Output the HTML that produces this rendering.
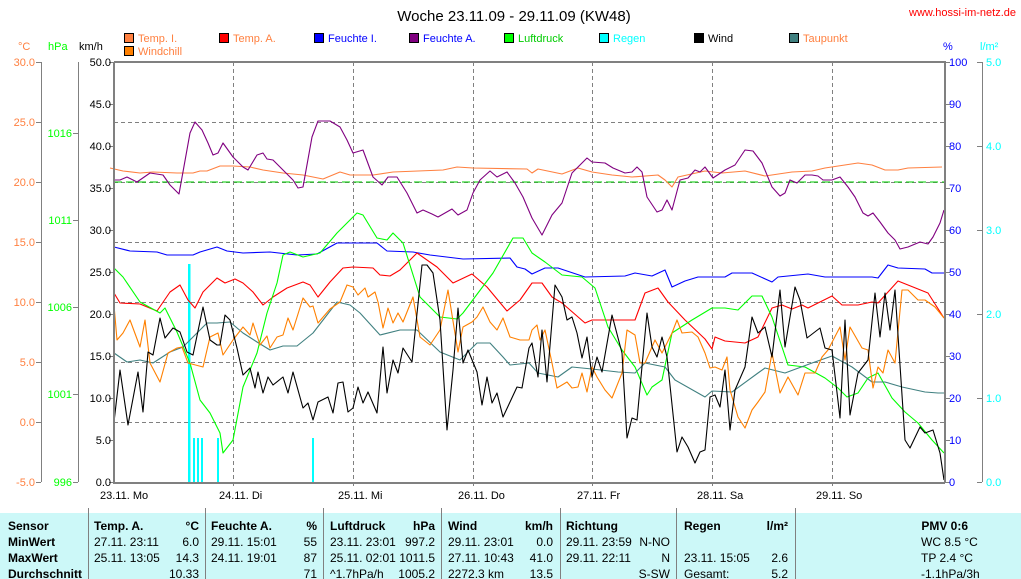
<!DOCTYPE html>
<html><head><meta charset="utf-8"><style>
body{margin:0;background:#fff;width:1021px;height:579px;overflow:hidden}
svg{display:block;font-family:"Liberation Sans",sans-serif}
</style></head><body>
<svg width="1021" height="579" viewBox="0 0 1021 579">
<rect width="1021" height="579" fill="#fff"/>
<text x="514" y="21" font-size="15" text-anchor="middle">Woche 23.11.09 - 29.11.09 (KW48)</text>
<text x="1016" y="16" font-size="11" fill="#f00" text-anchor="end">www.hossi-im-netz.de</text>
<!-- legend -->
<g font-size="11">
<rect x="124.5" y="33.5" width="9" height="9" fill="#ff8040" stroke="#000"/><text x="138" y="42" fill="#ff8040">Temp. I.</text>
<rect x="219.5" y="33.5" width="9" height="9" fill="#f00" stroke="#000"/><text x="233" y="42" fill="#ff8040">Temp. A.</text>
<rect x="314.5" y="33.5" width="9" height="9" fill="#00f" stroke="#000"/><text x="328" y="42" fill="#00f">Feuchte I.</text>
<rect x="409.5" y="33.5" width="9" height="9" fill="#800080" stroke="#000"/><text x="423" y="42" fill="#00f">Feuchte A.</text>
<rect x="504.5" y="33.5" width="9" height="9" fill="#0f0" stroke="#000"/><text x="518" y="42" fill="#0c0">Luftdruck</text>
<rect x="599.5" y="33.5" width="9" height="9" fill="#0ff" stroke="#000"/><text x="613" y="42" fill="#0ff">Regen</text>
<rect x="694.5" y="33.5" width="9" height="9" fill="#000" stroke="#000"/><text x="708" y="42" fill="#000">Wind</text>
<rect x="789.5" y="33.5" width="9" height="9" fill="#408080" stroke="#000"/><text x="803" y="42" fill="#ff8040">Taupunkt</text>
<rect x="124.5" y="46.5" width="9" height="9" fill="#ff8000" stroke="#000"/><text x="138" y="55" fill="#ff8040">Windchill</text>
</g>
<!-- axis units -->
<g font-size="11">
<text x="18" y="50" fill="#ff8040">°C</text>
<text x="48" y="50" fill="#0f0">hPa</text>
<text x="79" y="50" fill="#000">km/h</text>
<text x="943" y="50" fill="#00f">%</text>
<text x="980" y="50" fill="#0ff">l/m²</text>
</g>
<!-- left axes -->
<g stroke="#808080" stroke-width="1">
<line x1="41.5" y1="62" x2="41.5" y2="482"/>
<line x1="78.5" y1="62" x2="78.5" y2="482"/>
<line x1="982.5" y1="62" x2="982.5" y2="482"/>
</g>
<g stroke="#808080">
<path d="M36 62.5h5M36 122.5h5M36 182.5h5M36 242.5h5M36 302.5h5M36 362.5h5M36 422.5h5M36 482.5h5"/>
<path d="M73 133.5h5M73 220.5h5M73 307.5h5M73 394.5h5M73 482.5h5"/>
<path d="M109 62.5h5M109 104.5h5M109 146.5h5M109 188.5h5M109 230.5h5M109 272.5h5M109 314.5h5M109 356.5h5M109 398.5h5M109 440.5h5M109 482.5h5"/>
<path d="M945 62.5h5M945 104.5h5M945 146.5h5M945 188.5h5M945 230.5h5M945 272.5h5M945 314.5h5M945 356.5h5M945 398.5h5M945 440.5h5M945 482.5h5"/>
<path d="M977 62.5h5M977 146.5h5M977 230.5h5M977 314.5h5M977 398.5h5M977 482.5h5"/>
</g>
<g font-size="11" fill="#ff8040" text-anchor="end">
<text x="35" y="66">30.0</text><text x="35" y="126">25.0</text><text x="35" y="186">20.0</text><text x="35" y="246">15.0</text><text x="35" y="306">10.0</text><text x="35" y="366">5.0</text><text x="35" y="426">0.0</text><text x="35" y="486">-5.0</text>
</g>
<g font-size="11" fill="#0f0" text-anchor="end">
<text x="72" y="137">1016</text><text x="72" y="224">1011</text><text x="72" y="311">1006</text><text x="72" y="398">1001</text><text x="72" y="486">996</text>
</g>
<g font-size="11" fill="#000" text-anchor="end">
<text x="111" y="66">50.0</text><text x="111" y="108">45.0</text><text x="111" y="150">40.0</text><text x="111" y="192">35.0</text><text x="111" y="234">30.0</text><text x="111" y="276">25.0</text><text x="111" y="318">20.0</text><text x="111" y="360">15.0</text><text x="111" y="402">10.0</text><text x="111" y="444">5.0</text><text x="111" y="486">0.0</text>
</g>
<g font-size="11" fill="#00f">
<text x="949" y="66">100</text><text x="949" y="108">90</text><text x="949" y="150">80</text><text x="949" y="192">70</text><text x="949" y="234">60</text><text x="949" y="276">50</text><text x="949" y="318">40</text><text x="949" y="360">30</text><text x="949" y="402">20</text><text x="949" y="444">10</text><text x="949" y="486">0</text>
</g>
<g font-size="11" fill="#0ff">
<text x="986" y="66">5.0</text><text x="986" y="150">4.0</text><text x="986" y="234">3.0</text><text x="986" y="318">2.0</text><text x="986" y="402">1.0</text><text x="986" y="486">0.0</text>
</g>
<!-- grid -->
<g stroke="#808080" stroke-dasharray="4,3" stroke-width="1">
<path d="M114 122.5H945M114 182.5H945M114 242.5H945M114 302.5H945M114 362.5H945M114 422.5H945"/>
<path d="M233.5 62V486M353.5 62V486M473.5 62V486M592.5 62V486M712.5 62V486M832.5 62V486"/>
</g>
<line x1="114" y1="182" x2="945" y2="182" stroke="#0c0" stroke-dasharray="8,4" stroke-width="1"/>
<!-- x labels -->
<g font-size="11">
<text x="100" y="499">23.11. Mo</text><text x="219" y="499">24.11. Di</text><text x="338" y="499">25.11. Mi</text><text x="458" y="499">26.11. Do</text><text x="577" y="499">27.11. Fr</text><text x="697" y="499">28.11. Sa</text><text x="816" y="499">29.11. So</text>
</g>
<!-- rain -->
<g fill="#0ff">
<rect x="188" y="264" width="2.5" height="218"/>
<rect x="193" y="438" width="2" height="44"/><rect x="197" y="438" width="2" height="44"/><rect x="201" y="438" width="2" height="44"/>
<rect x="217" y="438" width="2" height="44"/><rect x="312" y="438" width="2" height="44"/>
</g>
<g fill="none" stroke-width="1.1" stroke-linejoin="round">
<polyline stroke="#ff8040" points="110,168 123,171 140,173 153,172 177,173 193,173 200,171 207,171 220,166 233,166 250,167 263,170 283,173 303,175 323,179 340,172 350,175 373,175 393,172 443,170 457,167 473,168 527,169 532,173 538,169 562,174 578,168 592,172 612,175 632,177 658,175 665,180 672,187 678,177 705,171 722,173 745,171 765,176 792,172 812,171 825,168 858,163 872,165 885,170 898,170 908,168 942,167"/>
<polyline stroke="#800080" points="114,180 120,180 127,177 137,182 150,173 163,175 170,185 179,194 190,133 195,122 202,130 208,143 213,155 218,153 223,143 233,157 243,167 248,170 257,155 263,153 267,159 273,160 280,167 287,174 293,180 298,188 303,187 312,137 318,121 330,121 340,127 347,140 353,153 363,150 373,177 382,185 388,177 397,177 407,193 417,213 423,210 432,214 438,217 445,213 452,209 458,215 467,210 473,193 480,180 490,171 497,177 507,172 515,183 523,197 532,218 542,235 552,215 562,203 572,173 587,158 592,162 605,163 613,168 625,173 632,172 637,167 642,172 647,197 657,212 662,210 667,200 672,210 680,180 688,178 695,170 700,172 705,167 713,178 725,170 735,165 745,150 753,151 762,163 772,187 780,196 785,193 790,180 797,183 805,175 812,175 818,176 823,180 832,180 840,177 848,187 855,197 863,213 868,216 873,213 880,222 888,233 895,240 900,249 908,247 920,242 928,244 933,237 940,223 944,210"/>
<polyline stroke="#00f" points="114,247 130,251 157,252 167,255 193,255 200,252 217,247 227,251 243,253 270,252 297,255 317,254 337,243 377,243 387,251 413,252 430,255 463,259 510,258 517,267 525,269 532,274 545,268 558,268 585,277 625,276 635,273 652,276 665,270 672,287 685,281 698,277 725,277 732,273 752,273 772,282 778,277 808,274 825,277 872,277 878,278 888,265 898,268 925,269 932,273 944,273"/>
<polyline stroke="#f00" points="114,293 120,303 140,304 157,311 170,292 180,285 188,300 195,308 203,292 217,278 225,283 235,279 243,283 253,292 263,305 273,297 287,288 303,282 310,285 318,297 330,282 343,268 353,267 373,268 380,275 390,276 400,270 417,253 437,267 453,283 472,274 487,287 507,311 520,300 532,283 542,283 552,297 562,303 585,323 592,320 625,320 635,320 645,293 658,288 668,302 685,320 705,339 712,349 715,337 725,341 745,343 758,337 772,308 782,305 792,309 802,305 808,308 818,303 832,296 842,305 858,305 872,302 878,303 898,281 908,285 928,293 944,318"/>
<polyline stroke="#0f0" points="114,268 123,277 140,302 160,313 165,308 177,332 190,363 200,400 210,413 220,433 223,453 233,440 243,387 257,353 267,313 277,283 283,255 290,252 303,257 320,253 337,233 357,213 363,215 377,238 387,240 393,233 403,243 420,297 440,317 457,319 463,313 493,273 513,238 523,238 532,253 545,262 562,275 582,277 595,288 608,327 622,350 635,367 647,395 652,387 662,380 672,333 692,320 712,308 725,308 738,310 752,296 762,296 772,317 788,365 805,367 825,378 838,388 847,397 858,393 868,378 878,373 892,398 905,412 918,423 932,440 944,453"/>
<polyline stroke="#408080" points="114,353 127,362 140,360 153,363 170,352 183,347 197,333 207,323 217,323 230,322 243,333 257,342 270,350 283,346 297,346 313,333 337,302 350,305 360,313 380,335 400,330 417,330 440,352 460,360 477,343 490,343 503,357 510,365 529,363 538,373 558,377 572,367 592,369 618,372 635,373 645,363 665,367 675,380 705,397 712,391 732,392 758,373 765,368 785,373 812,363 832,356 852,367 872,382 885,382 902,387 925,392 938,393 944,393"/>
<polyline stroke="#ff8000" points="114,305 117,340 123,333 130,320 140,347 145,320 150,363 160,382 168,353 177,348 182,347 188,363 203,367 210,337 218,333 223,355 233,340 243,327 250,335 253,323 260,345 267,336 270,348 277,337 283,335 288,318 293,330 303,298 310,307 313,306 318,323 330,309 340,302 347,285 353,287 358,295 365,288 368,297 375,292 378,302 383,328 388,308 393,323 398,313 403,322 413,297 420,337 430,345 440,330 448,290 458,352 463,327 472,322 477,317 483,307 490,322 497,330 503,318 510,337 520,340 529,340 532,330 537,325 540,340 545,330 552,363 557,388 567,382 572,388 578,387 582,373 587,392 592,367 597,377 605,390 612,398 622,373 627,330 635,335 640,363 645,363 655,340 662,353 672,333 677,320 682,333 692,332 698,337 705,353 710,368 715,367 722,370 727,357 730,390 738,417 745,428 752,410 758,402 765,392 772,353 780,393 788,377 798,395 805,373 815,373 822,357 828,350 840,327 845,360 850,327 862,348 868,350 873,388 878,367 883,373 888,350 895,363 902,290 908,290 918,300 925,300 935,307 944,318"/>
<polyline stroke="#000" points="114,422 120,370 128,425 138,372 143,412 148,352 153,355 160,318 165,338 173,328 180,332 187,352 193,355 203,307 210,340 217,345 220,345 225,315 230,320 237,348 243,375 250,368 255,388 258,372 263,393 268,377 273,385 283,377 288,393 293,372 303,408 308,403 313,420 318,402 328,397 333,413 338,383 343,382 348,412 353,408 358,387 363,403 368,392 377,413 383,347 387,393 393,360 398,373 403,348 412,362 422,265 427,265 433,273 440,320 447,430 453,370 458,308 463,363 468,350 477,372 482,405 487,377 492,403 497,393 503,417 517,387 522,388 529,348 532,343 538,377 542,330 547,382 555,285 562,297 567,320 572,317 577,333 582,358 587,337 592,377 597,357 602,372 612,315 622,353 627,438 632,418 637,420 647,313 652,347 657,357 662,337 667,357 677,452 682,437 688,447 695,463 700,452 705,450 710,397 715,395 720,407 725,370 730,430 735,390 745,367 752,317 758,333 765,327 772,357 780,290 785,347 795,287 800,300 807,338 820,328 825,348 832,350 840,418 845,320 850,415 858,373 868,360 875,293 880,337 885,293 890,330 895,290 905,440 910,448 920,427 925,433 933,430 940,453 944,480"/>
</g>
<!-- plot frame -->
<g stroke="#808080" stroke-width="2" fill="none">
<path d="M114 62H945V483M114 62V483H945"/>
</g>
<!-- table -->
<rect x="0" y="513" width="1021" height="66" fill="#ccf8f8"/>
<g stroke="#808080" stroke-width="1">
<path d="M88.5 508V579M205.5 508V579M323.5 508V579M441.5 508V579M560.5 508V579M676.5 508V579M795.5 508V579"/>
</g>
<g font-size="12">
<g font-weight="bold">
<text x="8" y="530">Sensor</text><text x="8" y="546">MinWert</text><text x="8" y="562">MaxWert</text><text x="8" y="578">Durchschnitt</text>
<text x="94" y="530">Temp. A.</text><text x="199" y="530" text-anchor="end">°C</text>
<text x="211" y="530">Feuchte A.</text><text x="317" y="530" text-anchor="end">%</text>
<text x="330" y="530">Luftdruck</text><text x="435" y="530" text-anchor="end">hPa</text>
<text x="448" y="530">Wind</text><text x="553" y="530" text-anchor="end">km/h</text>
<text x="566" y="530">Richtung</text>
<text x="684" y="530">Regen</text><text x="788" y="530" text-anchor="end">l/m²</text>
<text x="968" y="530" text-anchor="end">PMV 0:6</text>
</g>
<text x="94" y="546">27.11.  23:11</text><text x="199" y="546" text-anchor="end">6.0</text>
<text x="94" y="562">25.11.  13:05</text><text x="199" y="562" text-anchor="end">14.3</text>
<text x="199" y="578" text-anchor="end">10.33</text>
<text x="211" y="546">29.11.  15:01</text><text x="317" y="546" text-anchor="end">55</text>
<text x="211" y="562">24.11.  19:01</text><text x="317" y="562" text-anchor="end">87</text>
<text x="317" y="578" text-anchor="end">71</text>
<text x="330" y="546">23.11.  23:01</text><text x="435" y="546" text-anchor="end">997.2</text>
<text x="330" y="562">25.11.  02:01</text><text x="435" y="562" text-anchor="end">1011.5</text>
<text x="330" y="578">^1.7hPa/h</text><text x="435" y="578" text-anchor="end">1005.2</text>
<text x="448" y="546">29.11.  23:01</text><text x="553" y="546" text-anchor="end">0.0</text>
<text x="448" y="562">27.11.  10:43</text><text x="553" y="562" text-anchor="end">41.0</text>
<text x="448" y="578">2272.3 km</text><text x="553" y="578" text-anchor="end">13.5</text>
<text x="566" y="546">29.11.  23:59</text><text x="670" y="546" text-anchor="end">N-NO</text>
<text x="566" y="562">29.11.  22:11</text><text x="670" y="562" text-anchor="end">N</text>
<text x="670" y="578" text-anchor="end">S-SW</text>
<text x="684" y="562">23.11.  15:05</text><text x="788" y="562" text-anchor="end">2.6</text>
<text x="684" y="578">Gesamt:</text><text x="788" y="578" text-anchor="end">5.2</text>
<text x="921" y="546">WC 8.5 °C</text>
<text x="921" y="562">TP 2.4 °C</text>
<text x="921" y="578">-1.1hPa/3h</text>
</g>
</svg>
</body></html>
